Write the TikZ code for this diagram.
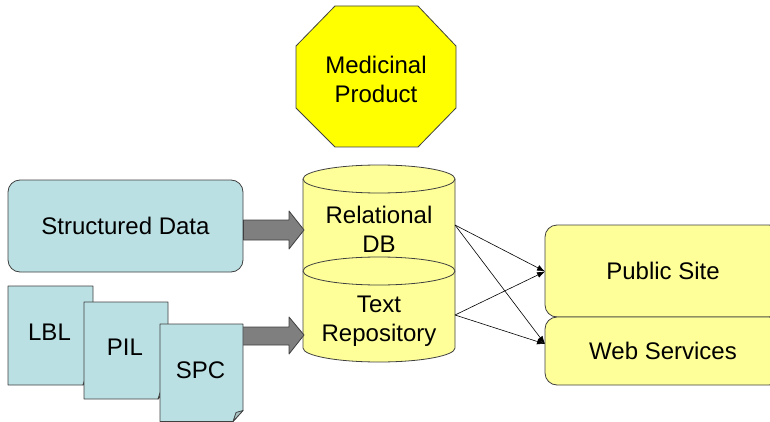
\documentclass[tikz,border=0pt]{standalone}
\usepackage{fontspec}
\setmainfont{Liberation Sans}
\usetikzlibrary{arrows.meta}
\definecolor{aqua}{HTML}{BBE0E3}
\definecolor{paleyellow}{HTML}{FFFF99}
\definecolor{stopyellow}{HTML}{FFFF00}
\definecolor{edge}{HTML}{404040}
\definecolor{bigarrow}{HTML}{7F7F7F}
\tikzset{
  outline/.style={draw=edge, line width=0.8pt, line join=round},
  label/.style={font=\fontsize{24}{29}\selectfont, align=center, inner sep=0pt},
  databox/.style={outline, fill=aqua, rounded corners=12pt, minimum width=235pt, minimum height=92pt, label},
  outbox/.style={outline, fill=paleyellow, rounded corners=12pt, minimum width=236pt, label},
  flow/.style={outline, fill=bigarrow},
  link/.style={draw=black, line width=0.6pt, -{Latex[length=8pt,width=6pt]}},
}
\begin{document}
\begin{tikzpicture}[x=1pt, y=-1pt]
\useasboundingbox (0,0) rectangle (770,422);
\begin{scope}
\clip (0,0) rectangle (770,422);

% Medicinal product octagon
\draw[outline, fill=stopyellow] (335,6) -- (418,6) -- (456,46) -- (456,108) -- (418,147)
  -- (335,147) -- (296,108) -- (296,46) -- cycle;
\node[label] (mp) at (376,79) {Medicinal\\Product};

% Relational DB cylinder
\draw[outline, fill=paleyellow] (303,179) -- (303,270) arc[start angle=180, end angle=360, x radius=76, y radius=-14]
  -- (455,179) arc[start angle=0, end angle=180, x radius=76, y radius=-14] -- cycle;
\draw[outline] (303,179) arc[start angle=180, end angle=360, x radius=76, y radius=-14];
\node[label] (rdb) at (379,229) {Relational\\DB};

% Text repository cylinder
\draw[outline, fill=paleyellow] (303,271) -- (303,348) arc[start angle=180, end angle=360, x radius=76, y radius=-14]
  -- (455,271) arc[start angle=0, end angle=180, x radius=76, y radius=-14] -- cycle;
\draw[outline] (303,271) arc[start angle=180, end angle=360, x radius=76, y radius=-14];
\node[label] (txt) at (379,321) {Text\\Repository};

% connection points on the cylinders
\coordinate (rdbIn) at (304,230);
\coordinate (rdbOut) at (455,225);
\coordinate (txtIn) at (304,335);
\coordinate (txtOut) at (455,315);

% Sources
\node[databox] (sd) at (125.5,226) {Structured Data};

% Outputs
\node[outbox, minimum height=92pt] (ps) at (663,271) {Public Site};
\node[outbox, minimum height=68pt] (ws) at (663,351) {Web Services};
\coordinate (psIn) at (545,271.5);
\coordinate (wsIn) at (545,344);

% Broad arrows into the stores
\draw[flow] (sd.east |- 0,220) -- (289,220) -- (289,211) -- (rdbIn) -- (289,249) -- (289,240) -- (sd.east |- 0,240) -- cycle;
\draw[flow] (236,327) -- (289,327) -- (289,317) -- (txtIn) -- (289,354) -- (289,345) -- (236,345) -- cycle;

% Document pages with a turned-down corner
\foreach \l/\t/\r/\b/\n/\txt in {8/286/93/385/lbl/LBL, 84/302/168/399/pil/PIL, 160/324/243/421.5/spc/SPC}{
  \draw[outline, fill=aqua] (\l,\t) -- (\r,\t) -- (\r,\b-11) -- (\r-10,\b) -- (\l,\b) -- cycle;
  \draw[outline, fill=aqua!70!gray] (\r,\b-11) -- (\r-10,\b) -- (\r-7,\b-9) -- cycle;
  \node[label] (\n) at ({(\l+\r)/2-1},{(\t+\b)/2-3}) {\txt};
}

% Publishing links
\draw[link] (rdbOut) -- (psIn);
\draw[link] (rdbOut) -- (wsIn);
\draw[link] (txtOut) -- (psIn);
\draw[link] (txtOut) -- (wsIn);
\end{scope}
\end{tikzpicture}
\end{document}
